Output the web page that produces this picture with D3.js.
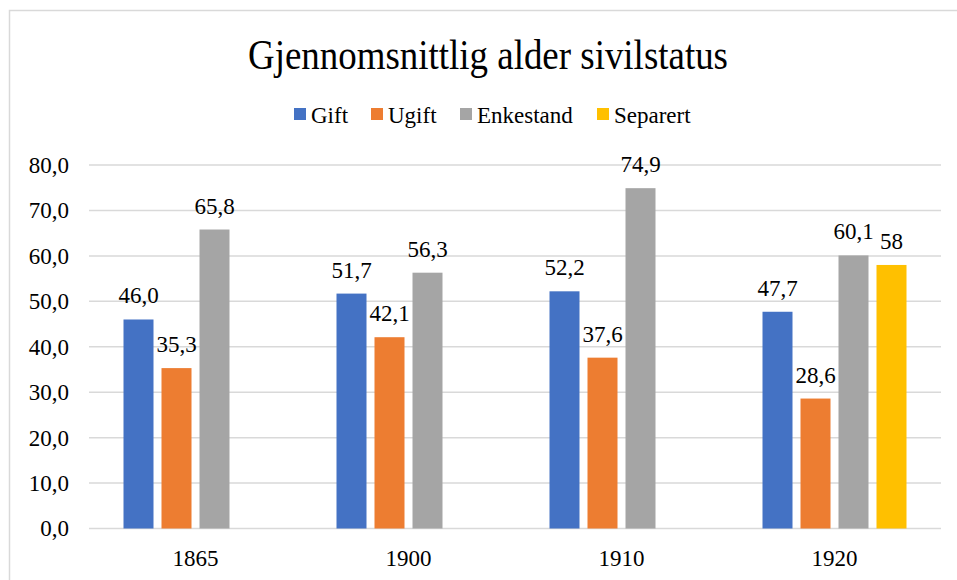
<!DOCTYPE html>
<html>
<head>
<meta charset="utf-8">
<script src="https://cdn.jsdelivr.net/npm/d3@7"></script>
<style>
  html, body { margin: 0; padding: 0; background: #fff; }
  svg { display: block; font-family: "Liberation Serif", "Times New Roman", serif; }
</style>
</head>
<body>
<svg id="chart" width="957" height="580"></svg>
<script>
// Average age by marital status, per census year
const categories = ["1865", "1900", "1910", "1920"];
const seriesNames = ["Gift", "Ugift", "Enkestand", "Separert"];
const gift      = [46.0, 51.7, 52.2, 47.7];
const ugift     = [35.3, 42.1, 37.6, 28.6];
const enkestand = [65.8, 56.3, 74.9, 60.1];
const separert  = [null, null, null, 58];
const separertLabels = [null, null, null, "58"];
const yTicks = [0, 10, 20, 30, 40, 50, 60, 70, 80];
const titleText = "Gjennomsnittlig alder sivilstatus";

const seriesValues = [gift, ugift, enkestand, separert];
const colors = ["#4472c4", "#ed7d31", "#a5a5a5", "#ffc000"];
const fmt = v => v.toFixed(1).replace(".", ",");
const FONT = "Liberation Serif, Times New Roman, serif";
const SMALL = 23;

const svg = d3.select("#chart");

// outer chart frame
svg.append("rect")
  .attr("x", 9.5).attr("y", 10.5)
  .attr("width", 960).attr("height", 590)
  .attr("fill", "#fff").attr("stroke", "#d9d9d9").attr("stroke-width", 1.5);

const plot = { left: 89, right: 941, top: 165, bottom: 528.5 };

const y = d3.scaleLinear().domain([0, 80]).range([plot.bottom, plot.top]);
const x0 = d3.scaleBand().domain(categories).range([plot.left, plot.right]).padding(0);
const clusterW = 144;
const x1 = d3.scaleBand().domain(seriesNames)
  .range([(x0.bandwidth() - clusterW) / 2, (x0.bandwidth() + clusterW) / 2])
  .paddingInner(8 / 38).paddingOuter(0);

// gridlines
svg.append("g")
  .selectAll("line").data(yTicks).join("line")
  .attr("x1", plot.left).attr("x2", plot.right)
  .attr("y1", d => y(d)).attr("y2", d => y(d))
  .attr("stroke", "#d9d9d9").attr("stroke-width", 1.5);

// y axis labels
const yAxis = d3.axisLeft(y).tickValues(yTicks).tickFormat(fmt).tickSize(0).tickPadding(0);
const gy = svg.append("g").attr("transform", `translate(69,0)`).call(yAxis);
gy.select(".domain").remove();
gy.attr("font-family", FONT).attr("font-size", SMALL);
gy.selectAll("text").attr("fill", "#000");

// x axis labels
const xAxis = d3.axisBottom(x0).tickSize(0).tickPadding(0);
const gx = svg.append("g").attr("transform", `translate(0,${plot.bottom})`).call(xAxis);
gx.select(".domain").remove();
gx.attr("font-family", FONT).attr("font-size", SMALL);
gx.selectAll("text").attr("fill", "#000").attr("dy", null).attr("y", 37);

// bars and value labels
const groups = svg.append("g").selectAll("g").data(categories).join("g")
  .attr("transform", d => `translate(${x0(d)},0)`);

groups.each(function (cat, ci) {
  const g = d3.select(this);
  seriesNames.forEach((s, si) => {
    const v = seriesValues[si][ci];
    if (v == null) return;
    g.append("rect")
      .attr("x", x1(s)).attr("width", x1.bandwidth())
      .attr("y", y(v)).attr("height", y(0) - y(v))
      .attr("fill", colors[si]);
    const label = si === 3 ? separertLabels[ci] : fmt(v);
    g.append("text")
      .attr("x", x1(s) + x1.bandwidth() / 2)
      .attr("y", y(v) - 16)
      .attr("text-anchor", "middle")
      .attr("font-family", FONT)
      .attr("font-size", SMALL).attr("fill", "#000")
      .text(label);
  });
});

// title
svg.append("text")
  .attr("x", 488).attr("y", 69)
  .attr("text-anchor", "middle")
  .attr("font-family", FONT)
  .attr("font-size", 42).attr("fill", "#000")
  .attr("textLength", 480).attr("lengthAdjust", "spacingAndGlyphs")
  .text(titleText);

// legend
const legendX = [294, 371, 460, 597];
const lg = svg.append("g").selectAll("g").data(seriesNames).join("g")
  .attr("transform", (d, i) => `translate(${legendX[i]},108)`);
lg.append("rect").attr("width", 12).attr("height", 12).attr("fill", (d, i) => colors[i]);
lg.append("text").attr("x", 17).attr("y", 14.5)
  .attr("font-family", FONT)
  .attr("font-size", SMALL).attr("fill", "#000").text(d => d);
</script>
</body>
</html>
